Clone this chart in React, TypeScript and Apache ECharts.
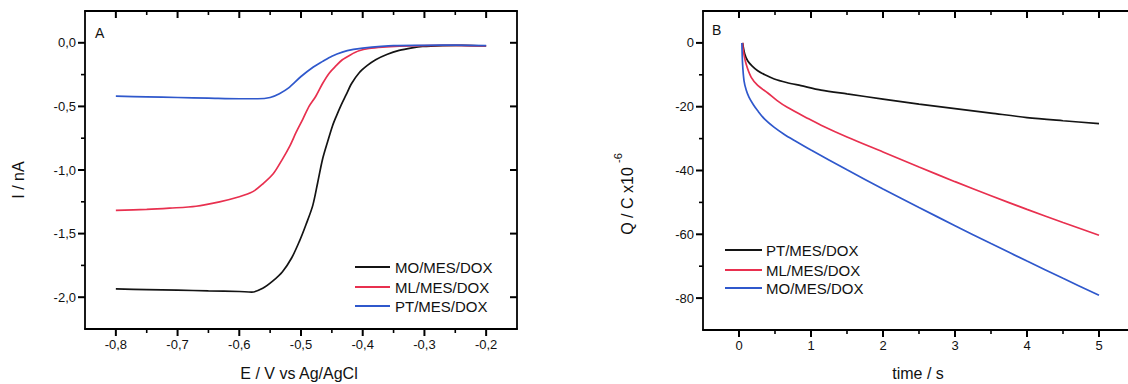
import React, { useEffect, useRef } from "react";
import * as echarts from "echarts";

// Panel A: linear sweep voltammetry, E (V vs Ag/AgCl) vs I (nA)
const moLsv: number[][] = [
  [-0.8, -1.935], [-0.75, -1.94], [-0.7, -1.945], [-0.65, -1.95], [-0.6, -1.955], [-0.58, -1.96],
  [-0.562, -1.93], [-0.545, -1.87], [-0.53, -1.8], [-0.515, -1.69], [-0.503, -1.565], [-0.492, -1.43],
  [-0.481, -1.28], [-0.473, -1.1], [-0.465, -0.914], [-0.457, -0.78], [-0.449, -0.654], [-0.443, -0.58],
  [-0.435, -0.49], [-0.427, -0.41], [-0.418, -0.32], [-0.406, -0.237], [-0.393, -0.18], [-0.379, -0.133],
  [-0.36, -0.09], [-0.341, -0.06], [-0.32, -0.04], [-0.303, -0.029], [-0.27, -0.022], [-0.24, -0.02],
  [-0.2, -0.025],
];
const mlLsv: number[][] = [
  [-0.8, -1.318], [-0.75, -1.31], [-0.713, -1.3], [-0.67, -1.285], [-0.632, -1.25], [-0.6, -1.21],
  [-0.578, -1.17], [-0.562, -1.11], [-0.545, -1.03], [-0.53, -0.914], [-0.518, -0.81], [-0.508, -0.705],
  [-0.497, -0.6], [-0.487, -0.5], [-0.476, -0.42], [-0.465, -0.32], [-0.454, -0.237], [-0.443, -0.18],
  [-0.433, -0.133], [-0.42, -0.095], [-0.406, -0.063], [-0.39, -0.045], [-0.368, -0.034], [-0.34, -0.027],
  [-0.3, -0.022], [-0.25, -0.02], [-0.2, -0.025],
];
const ptLsv: number[][] = [
  [-0.8, -0.42], [-0.75, -0.425], [-0.7, -0.43], [-0.65, -0.435], [-0.6, -0.44], [-0.57, -0.44],
  [-0.55, -0.43], [-0.535, -0.4], [-0.52, -0.355], [-0.5, -0.265], [-0.48, -0.19], [-0.465, -0.146],
  [-0.45, -0.105], [-0.433, -0.073], [-0.415, -0.052], [-0.4, -0.042], [-0.37, -0.028], [-0.35, -0.022],
  [-0.3, -0.02], [-0.25, -0.018], [-0.2, -0.022],
];

// Panel B: charge vs time (Q / C x10^-6)
const ptCharge: number[][] = [
  [0.05, 0], [0.08, -3.5], [0.12, -5.6], [0.18, -7.2], [0.26, -8.75], [0.36, -10], [0.49, -11.3],
  [0.66, -12.4], [0.86, -13.4], [1.14, -14.8], [1.5, -16], [2, -17.6], [2.5, -19.2], [3, -20.6],
  [3.5, -22], [4, -23.4], [4.5, -24.4], [5, -25.3],
];
const mlCharge: number[][] = [
  [0.05, 0], [0.06, -2.5], [0.1, -6.7], [0.17, -10.8], [0.26, -13.3], [0.4, -15.7], [0.53, -18.1],
  [0.67, -20.2], [0.95, -23.6], [1.14, -25.8], [1.5, -29.5], [2, -34.2], [2.5, -38.9],
  [3, -43.5], [3.5, -47.9], [4, -52.2], [4.5, -56.3], [5, -60.3],
];
const moCharge: number[][] = [
  [0.04, 0], [0.05, -6.7], [0.07, -11.9], [0.1, -14.8], [0.14, -17.1], [0.2, -19.4], [0.26, -21.3],
  [0.36, -24], [0.49, -26.5], [0.63, -28.7], [0.77, -30.6], [1, -33.6], [1.5, -39.8], [2, -45.8],
  [2.5, -51.6], [3, -57.3], [3.5, -62.9], [4, -68.4], [4.5, -73.8], [5, -79.1],
];

// Ticks
const aXTicks = [-0.8, -0.7, -0.6, -0.5, -0.4, -0.3, -0.2];
const aXMinor = [-0.75, -0.65, -0.55, -0.45, -0.35, -0.25];
const aYTicks = [-2, -1.5, -1, -0.5, 0];
const aYMinor = [-1.75, -1.25, -0.75, -0.25];
const bXTicks = [0, 1, 2, 3, 4, 5];
const bXMinor = [0.5, 1.5, 2.5, 3.5, 4.5];
const bYTicks = [-80, -60, -40, -20, 0];
const bYMinor = [-70, -50, -30, -10];

const legendA = ["MO/MES/DOX", "ML/MES/DOX", "PT/MES/DOX"];
const legendB = ["PT/MES/DOX", "ML/MES/DOX", "MO/MES/DOX"];

const BLACK = "#141414";
const RED = "#e8304f";
const BLUE = "#2f58cc";
const FONT = "Liberation Sans, Arial, sans-serif";

const A_X = [-0.85, -0.15];
const A_Y = [-2.25, 0.25];
const B_X = [-0.5, 5.5];
const B_Y = [-90, 10];

const commaFmt = (v: number) => (Math.abs(v) < 1e-9 ? "0,0" : v.toFixed(1).replace(".", ","));
const intFmt = (v: number) => String(Math.round(v));

function mainAxis(grid: number, range: number[], position: string, major: number[], fmt: (v: number) => string) {
  return {
    type: "value",
    gridIndex: grid,
    min: range[0],
    max: range[1],
    position,
    splitLine: { show: false },
    axisLine: { show: true, onZero: false, lineStyle: { color: "#000", width: 1.8 } },
    axisTick: { show: false },
    axisLabel: { show: true, customValues: major, formatter: fmt, margin: 9, fontSize: 13, fontFamily: FONT, color: "#111" },
  };
}
function mirrorAxis(grid: number, range: number[], position: string) {
  return {
    type: "value",
    gridIndex: grid,
    min: range[0],
    max: range[1],
    position,
    splitLine: { show: false },
    axisLine: { show: true, onZero: false, lineStyle: { color: "#000", width: 1.8 } },
    axisTick: { show: false },
    axisLabel: { show: false },
  };
}

function legendGraphics(names: string[], colors: string[], lx1: number, lx2: number, tx: number, ys: number[]) {
  const els: any[] = [];
  names.forEach((n, i) => {
    els.push({ type: "line", shape: { x1: lx1, y1: ys[i], x2: lx2, y2: ys[i] }, style: { stroke: colors[i], lineWidth: 1.8 } });
    els.push({
      type: "text",
      x: tx,
      y: ys[i],
      style: { text: n, fontSize: 15, fontFamily: FONT, fill: "#111", align: "left", verticalAlign: "middle" },
    });
  });
  return els;
}

export default function App() {
  const ref = useRef<HTMLDivElement>(null);
  useEffect(() => {
    if (!ref.current) return;
    const chart = echarts.init(ref.current, undefined, { renderer: "svg" });

    const lineSeries = (name: string, data: number[][], color: string, xi: number, yi: number) => ({
      type: "line",
      name,
      data,
      xAxisIndex: xi,
      yAxisIndex: yi,
      showSymbol: false,
      smooth: 0.3,
      lineStyle: { color, width: 1.7 },
      itemStyle: { color },
      z: 3,
    });

    chart.setOption({
      animation: false,
      backgroundColor: "#ffffff",
      grid: [
        { left: 85, top: 11, width: 432, height: 318, outerBoundsMode: "none" },
        { left: 703, top: 11, width: 432, height: 319, outerBoundsMode: "none" },
      ],
      xAxis: [
        mainAxis(0, A_X, "bottom", aXTicks, commaFmt),
        mirrorAxis(0, A_X, "top"),
        mainAxis(1, B_X, "bottom", bXTicks, intFmt),
        mirrorAxis(1, B_X, "top"),
      ],
      yAxis: [
        mainAxis(0, A_Y, "left", aYTicks, commaFmt),
        mirrorAxis(0, A_Y, "right"),
        mainAxis(1, B_Y, "left", bYTicks, intFmt),
        mirrorAxis(1, B_Y, "right"),
      ],
      series: [
        lineSeries("MO/MES/DOX", moLsv, BLACK, 0, 0),
        lineSeries("ML/MES/DOX", mlLsv, RED, 0, 0),
        lineSeries("PT/MES/DOX", ptLsv, BLUE, 0, 0),
        lineSeries("PT/MES/DOX", ptCharge, BLACK, 2, 2),
        lineSeries("ML/MES/DOX", mlCharge, RED, 2, 2),
        lineSeries("MO/MES/DOX", moCharge, BLUE, 2, 2),
      ],
    });

    // Tick marks placed through the axes' own scales
    const ticks: any[] = [];
    const seg = (x1: number, y1: number, x2: number, y2: number, w: number) =>
      ticks.push({ type: "line", silent: true, shape: { x1, y1, x2, y2 }, style: { stroke: "#000", lineWidth: w } });
    const px = (xi: number, v: number) => chart.convertToPixel({ xAxisIndex: xi } as any, v) as unknown as number;
    const py = (yi: number, v: number) => chart.convertToPixel({ yAxisIndex: yi } as any, v) as unknown as number;
    const xTicks = (xi: number, yi: number, yr: number[], vals: number[], len: number, w: number) => {
      const yb = py(yi, yr[0]);
      const yt = py(yi, yr[1]);
      vals.forEach((v) => {
        const x = px(xi, v);
        seg(x, yb, x, yb + len, w);
        seg(x, yt, x, yt + len, w);
      });
    };
    const yTicks = (xi: number, yi: number, xr: number[], vals: number[], len: number, w: number, right: boolean) => {
      const xl = px(xi, xr[0]);
      const xr2 = px(xi, xr[1]);
      vals.forEach((v) => {
        const y = py(yi, v);
        seg(xl - len, y, xl, y, w);
        if (right) seg(xr2 - len, y, xr2, y, w);
      });
    };
    xTicks(0, 0, A_Y, aXTicks, 7, 2);
    xTicks(0, 0, A_Y, aXMinor, 4, 1.6);
    yTicks(0, 0, A_X, aYTicks, 7, 2, true);
    yTicks(0, 0, A_X, aYMinor, 4, 1.6, false);
    xTicks(2, 2, B_Y, bXTicks, 7, 2);
    xTicks(2, 2, B_Y, bXMinor, 4, 1.6);
    yTicks(2, 2, B_X, bYTicks, 7, 2, true);
    yTicks(2, 2, B_X, bYMinor, 4, 1.6, false);

    chart.setOption({
      graphic: {
        elements: [
          ...ticks,
          { type: "text", x: 95, y: 33, style: { text: "A", fontSize: 14, fontFamily: FONT, fill: "#111", align: "left", verticalAlign: "middle" } },
          { type: "text", x: 712, y: 30, style: { text: "B", fontSize: 14, fontFamily: FONT, fill: "#111", align: "left", verticalAlign: "middle" } },
          {
            type: "text",
            x: 18.5,
            y: 180,
            rotation: Math.PI / 2,
            style: { text: "I / nA", fontSize: 16, fontFamily: FONT, fill: "#111", align: "center", verticalAlign: "middle" },
          },
          {
            type: "text",
            x: 299,
            y: 373,
            style: { text: "E / V vs Ag/AgCl", fontSize: 16, fontFamily: FONT, fill: "#111", align: "center", verticalAlign: "middle" },
          },
          {
            type: "text",
            x: 627.5,
            y: 201,
            rotation: Math.PI / 2,
            style: { text: "Q / C x10", fontSize: 16, fontFamily: FONT, fill: "#111", align: "center", verticalAlign: "middle" },
          },
          {
            type: "text",
            x: 618,
            y: 158,
            rotation: Math.PI / 2,
            style: { text: "-6", fontSize: 11, fontFamily: FONT, fill: "#111", align: "center", verticalAlign: "middle" },
          },
          {
            type: "text",
            x: 918,
            y: 373,
            style: { text: "time / s", fontSize: 16, fontFamily: FONT, fill: "#111", align: "center", verticalAlign: "middle" },
          },
          ...legendGraphics(legendA, [BLACK, RED, BLUE], 355, 390, 395, [267, 287, 306]),
          ...legendGraphics(legendB, [BLACK, RED, BLUE], 725, 762, 766, [250, 270, 288]),
        ],
      },
    });
    return () => chart.dispose();
  }, []);

  return (
    <div
      ref={ref}
      style={{ position: "fixed", left: 0, top: 0, width: 1128, height: 384, background: "#fff" }}
    />
  );
}
